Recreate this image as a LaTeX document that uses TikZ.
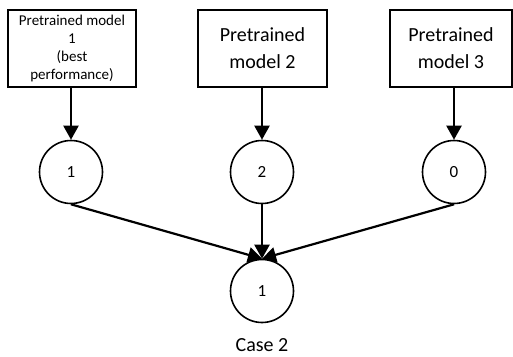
\documentclass[tikz,border=0pt]{standalone}
\usepackage{fontspec}
\setmainfont{Carlito}
\usetikzlibrary{arrows.meta}
\begin{document}
\begin{tikzpicture}[x=1pt,y=-1pt,
  modelbox/.style={draw,line width=1.6pt,align=center,inner sep=0pt},
  numcircle/.style={draw,circle,line width=1.6pt,minimum size=63pt,inner sep=0pt,font=\fontsize{17}{20}\selectfont},
  conn/.style={line width=2.2pt,-{Triangle[width=15pt,length=14pt]}}]
\useasboundingbox (0,0) rectangle (513,356);
\node[modelbox,minimum width=128pt,minimum height=77pt,font=\fontsize{15}{18}\selectfont] (b1) at (72,48.5) {Pretrained model\\1\\(best\\performance)};
\node[modelbox,minimum width=129pt,minimum height=77pt,font=\fontsize{20}{27}\selectfont] (b2) at (262.5,48.5) {Pretrained\\model 2};
\node[modelbox,minimum width=122pt,minimum height=77pt,font=\fontsize{20}{27}\selectfont] (b3) at (451,48.5) {Pretrained\\model 3};
\node[numcircle] (c1) at (71,172) {1};
\node[numcircle] (c2) at (262,172) {2};
\node[numcircle] (c3) at (454,172) {0};
\node[numcircle] (c4) at (262,291) {1};
\node[font=\fontsize{20}{24}\selectfont] (cap) at (262,345) {Case 2};
\draw[conn] (b1.south -| c1) -- (c1.north);
\draw[conn] (b2.south -| c2) -- (c2.north);
\draw[conn] (b3.south -| c3) -- (c3.north);
\draw[conn] (c1.south) -- (c4.north);
\draw[conn] (c2.south) -- (c4.north);
\draw[conn] (c3.south) -- (c4.north);
\end{tikzpicture}
\end{document}
